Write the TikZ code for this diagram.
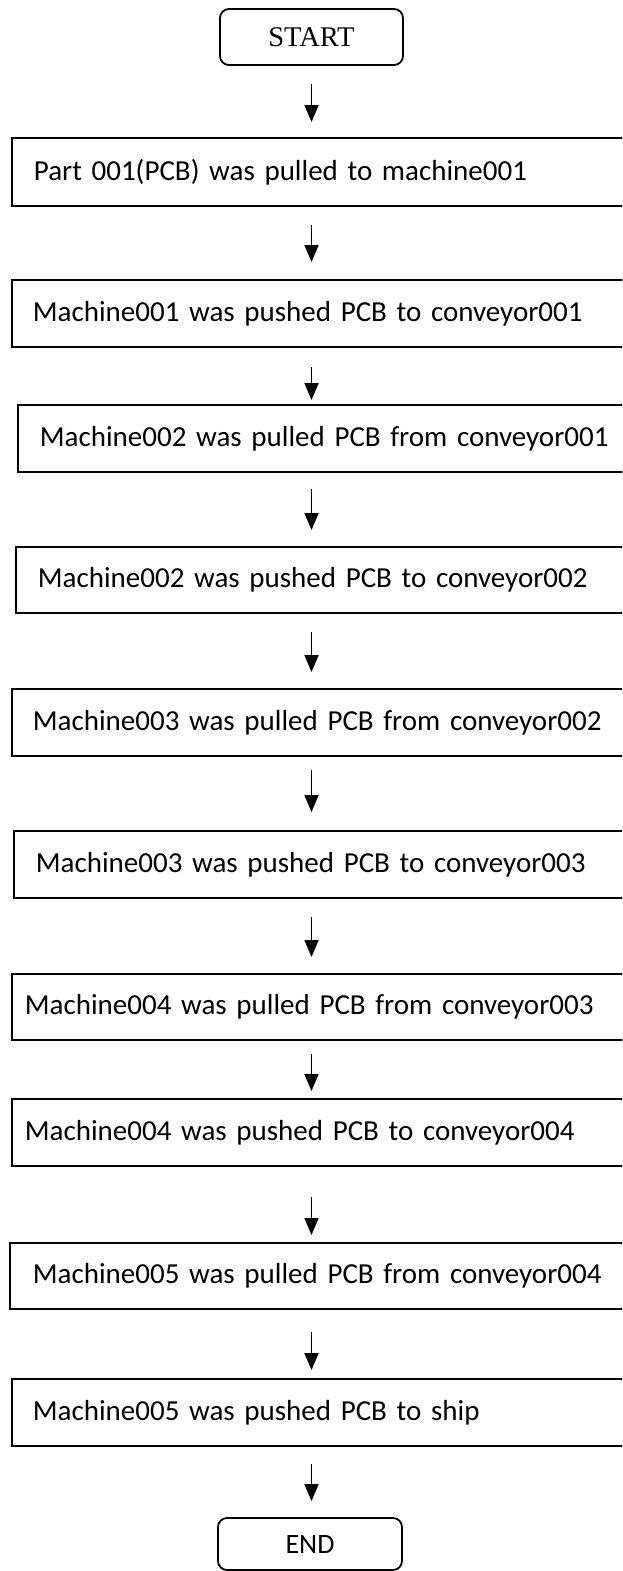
\documentclass[tikz,border=0pt]{standalone}
\usepackage{fontspec}
\setmainfont{Liberation Serif}
\newfontfamily\carl{Carlito}
\usetikzlibrary{arrows.meta}
\begin{document}
\begin{tikzpicture}[x=1pt,y=1pt,
  pbox/.style={draw, line width=1.8pt, rectangle, anchor=north west, align=left,
    font=\carl\fontsize{29}{34}\selectfont, inner ysep=0pt, text width=600pt},
  term/.style={draw, line width=1.8pt, rounded corners=9pt, inner sep=0pt},
  arr/.style={line width=1.8pt, -{Triangle[width=14pt,length=17pt]}}]
\useasboundingbox (0,0) rectangle (622,-1571);
\clip (0,0) rectangle (622,-1571);
\fill[white] (0,0) rectangle (622,-1571);
\node[term, minimum width=183pt, minimum height=56pt, font=\fontsize{28.5}{32}\selectfont] (start) at (311.5,-37) {START};
\node[pbox, inner xsep=22pt, minimum height=68pt] (b1) at (11,-137) {Part 001(PCB) was pulled to machine001};
\node[pbox, inner xsep=21pt, minimum height=67pt] (b2) at (11,-279) {Machine001 was pushed PCB to conveyor001};
\node[pbox, inner xsep=22pt, minimum height=67pt] (b3) at (17,-404) {Machine002 was pulled PCB from conveyor001};
\node[pbox, inner xsep=22pt, minimum height=66pt] (b4) at (15,-546) {Machine002 was pushed PCB to conveyor002};
\node[pbox, inner xsep=21pt, minimum height=67pt] (b5) at (11,-688) {Machine003 was pulled PCB from conveyor002};
\node[pbox, inner xsep=22pt, minimum height=67pt] (b6) at (13,-830) {Machine003 was pushed PCB to conveyor003};
\node[pbox, inner xsep=13pt, minimum height=66pt] (b7) at (11,-973) {Machine004 was pulled PCB from conveyor003};
\node[pbox, inner xsep=13pt, minimum height=67pt] (b8) at (11,-1098) {Machine004 was pushed PCB to conveyor004};
\node[pbox, inner xsep=23pt, minimum height=66pt] (b9) at (9,-1242) {Machine005 was pulled PCB from conveyor004};
\node[pbox, inner xsep=21pt, minimum height=67pt] (b10) at (11,-1378) {Machine005 was pushed PCB to ship};
\node[term, minimum width=184pt, minimum height=52pt, font=\carl\fontsize{28}{32}\selectfont] (fin) at (310,-1544) {END};
\draw[arr, shorten <=18pt, shorten >=15pt] (start.south) -- (b1.north -| start.south);
\draw[arr, shorten <=18pt, shorten >=17pt] (b1.south -| start.south) -- (b2.north -| start.south);
\draw[arr, shorten <=19pt, shorten >=4pt] (b2.south -| start.south) -- (b3.north -| start.south);
\draw[arr, shorten <=16pt, shorten >=16pt] (b3.south -| start.south) -- (b4.north -| start.south);
\draw[arr, shorten <=18pt, shorten >=16pt] (b4.south -| start.south) -- (b5.north -| start.south);
\draw[arr, shorten <=13pt, shorten >=18pt] (b5.south -| start.south) -- (b6.north -| start.south);
\draw[arr, shorten <=18pt, shorten >=16pt] (b6.south -| start.south) -- (b7.north -| start.south);
\draw[arr, shorten <=13pt, shorten >=7pt] (b7.south -| start.south) -- (b8.north -| start.south);
\draw[arr, shorten <=30pt, shorten >=7pt] (b8.south -| start.south) -- (b9.north -| start.south);
\draw[arr, shorten <=22pt, shorten >=8pt] (b9.south -| start.south) -- (b10.north -| start.south);
\draw[arr, shorten <=17pt, shorten >=16pt] (b10.south -| start.south) -- (fin.north -| start.south);
\end{tikzpicture}
\end{document}
